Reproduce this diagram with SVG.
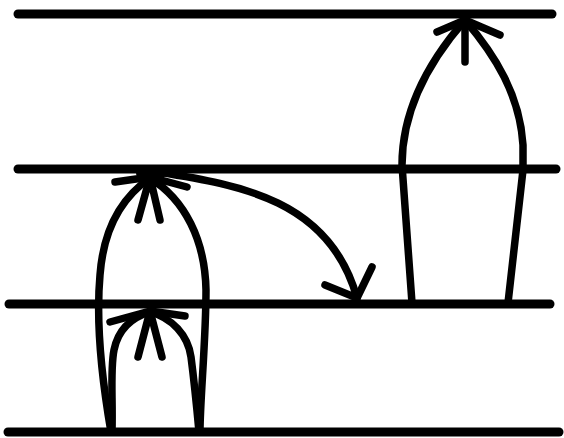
<svg xmlns="http://www.w3.org/2000/svg" width="564" height="438" viewBox="0 0 564 438">
<style>
.lvl{stroke:#000;stroke-width:9;stroke-linecap:round;fill:none}
.c{stroke:#000;stroke-width:7.5;stroke-linecap:round;stroke-linejoin:round;fill:none}
</style>
<rect width="564" height="438" fill="#fff"/>
<g id="level1"><line class="lvl" x1="18" y1="14" x2="552" y2="14"/></g>
<g id="level2"><line class="lvl" x1="18" y1="169" x2="556" y2="169"/></g>
<g id="level3"><line class="lvl" x1="9" y1="304" x2="550" y2="304"/></g>
<g id="level4"><line class="lvl" x1="8" y1="432" x2="559" y2="432"/></g>
<g id="connectors">
  <path class="c" d="M111,432 C102,380 96,320 100,275 C103,235 118,200 150,178"/>
  <path class="c" d="M150,178 C185,200 205,240 206,290 C206,340 200,400 200,432"/>
  <path class="c" d="M150,177 L115,182 M150,177 L187,187 M150,177 L138,220 M150,177 L160,220 M140,174 L162,174 L150,186 Z"/>
  <path class="c" d="M112,432 C113,400 110,370 114,350 C118,330 130,318 150,312"/>
  <path class="c" d="M150,312 C172,318 188,335 191,357 C194,380 197,410 199,432"/>
  <path class="c" d="M150,311 L110,322 M150,311 L185,316 M150,311 L138,357 M150,311 L162,357"/>
  <path class="c" d="M158,172 C240,185 330,200 357,298"/>
  <path class="c" d="M357,298 L325,285 M357,298 L372,267"/>
  <path class="c" d="M412,303 L402,165 C402,110 430,60 465,20"/>
  <path class="c" d="M465,20 C495,55 520,95 523,145 L523,170 L508,303"/>
  <path class="c" d="M465,20 L437,32 M465,20 L500,35 M465,20 L465,62"/>
</g>
</svg>
